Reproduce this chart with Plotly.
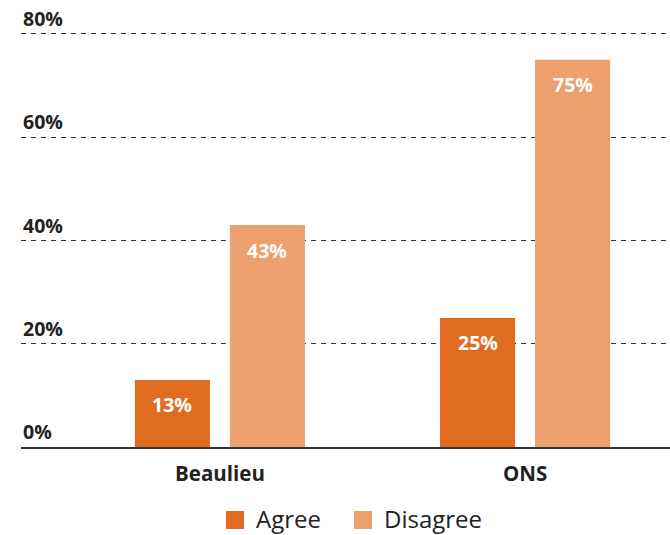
import plotly.graph_objects as go

# ---- Data ----
categories = ["Beaulieu", "ONS"]
agree = [13, 25]
disagree = [43, 75]
series_names = ["Agree", "Disagree"]
series_colors = ["#E06C22", "#EDA06E"]
y_ticks = [0, 20, 40, 60, 80]
y_ticklabels = ["0%", "20%", "40%", "60%", "80%"]

FONT = "Open Sans, Noto Sans, sans-serif"

# figure / plot-area geometry (pixels)
W, H = 670, 535
M_L, M_R, M_T, M_B = 21, 0, 31, 88
PLOT_W = W - M_L - M_R
PLOT_H = H - M_T - M_B


def px_to_paper(px, py):
    return (px - M_L) / PLOT_W, (H - M_B - py) / PLOT_H


fig = go.Figure()

for name, values, color in zip(series_names, [agree, disagree], series_colors):
    fig.add_trace(go.Bar(
        name=name,
        x=categories,
        y=values,
        marker=dict(color=color, line=dict(width=0)),
        showlegend=False,
        hoverinfo="skip",
    ))

# Value labels inside bars, a little below the top
offsets = [-47.5, 47.5]
for values, dx in zip([agree, disagree], offsets):
    for cat, v in zip(categories, values):
        fig.add_annotation(
            x=cat, y=v, text=f"<b>{v}%</b>",
            showarrow=False, xshift=dx, yshift=-25,
            font=dict(family=FONT, size=19.5, color="white"),
        )

# Y tick labels sit above their gridline, flush left
for val, lab in zip(y_ticks, y_ticklabels):
    fig.add_annotation(
        x=0, xref="paper", xanchor="left",
        y=val, yanchor="bottom", yshift=0,
        text=f"<b>{lab}</b>", showarrow=False,
        font=dict(family=FONT, size=19.5, color="#222222"),
    )

# Legend drawn by hand: square swatch + label, centred under the plot
legend_x = [226, 354]      # left edge of each swatch
legend_yc = 520            # vertical centre of the swatches
sw = 18
for name, color, lx in zip(series_names, series_colors, legend_x):
    x0, y0 = px_to_paper(lx, legend_yc + sw / 2)
    x1, y1 = px_to_paper(lx + sw, legend_yc - sw / 2)
    fig.add_shape(
        type="rect", xref="paper", yref="paper",
        x0=x0, x1=x1, y0=y0, y1=y1,
        fillcolor=color, line=dict(width=0),
    )
    tx, ty = px_to_paper(lx + sw + 11, legend_yc - 2)
    fig.add_annotation(
        x=tx, y=ty, xref="paper", yref="paper",
        xanchor="left", yanchor="middle",
        text=name, showarrow=False, borderpad=0,
        font=dict(family=FONT, size=24, color="#222222"),
    )

fig.update_layout(
    width=W, height=H,
    margin=dict(l=M_L, r=M_R, t=M_T, b=M_B, autoexpand=False),
    plot_bgcolor="white",
    paper_bgcolor="white",
    barmode="group",
    bargap=0.377,
    bargroupgap=0.21,
    showlegend=False,
    font=dict(family=FONT, color="#222222"),
    xaxis=dict(
        range=[-0.652, 1.475],
        showline=True, linecolor="#333333", linewidth=2,
        showgrid=False, ticks="",
        tickfont=dict(family=FONT, size=20.5, color="#222222", weight="bold"),
        ticklabelstandoff=7,
    ),
    yaxis=dict(
        range=[0, 80.58],
        tickvals=y_ticks,
        showticklabels=False,
        showgrid=True, gridcolor="#333333", gridwidth=1, griddash="5px,5px",
        zeroline=False, showline=False, ticks="",
    ),
)

fig.write_html(
    "out.html",
    config={"displayModeBar": False},
    post_script="document.body.style.margin = '0';",
)
